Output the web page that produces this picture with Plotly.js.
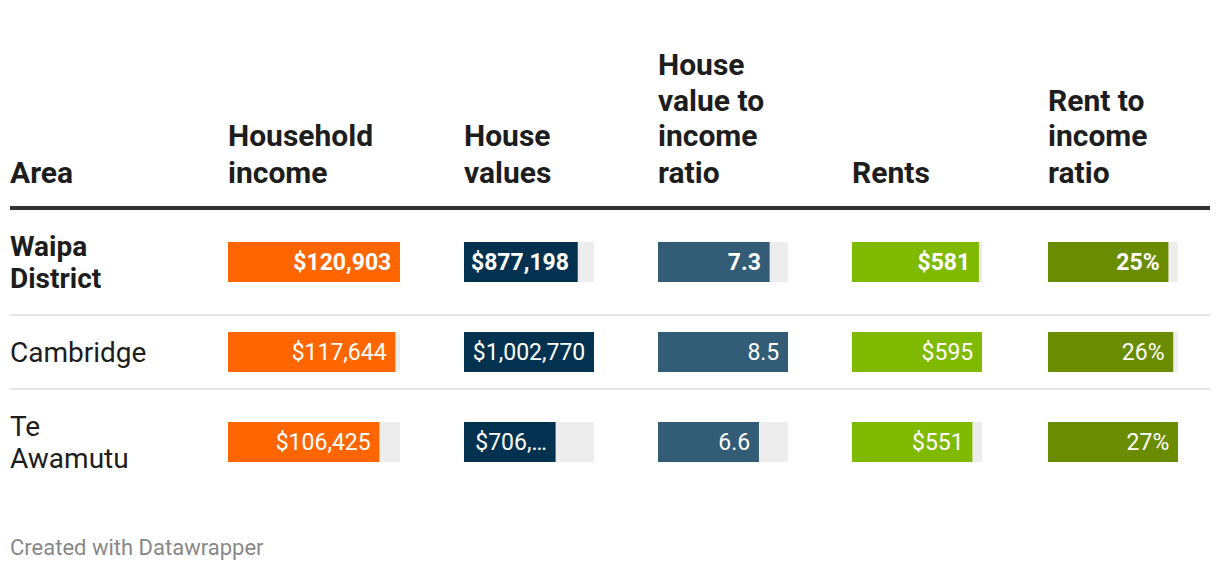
<!DOCTYPE html>
<html>
<head>
<meta charset="utf-8">
<script src="https://cdn.plot.ly/plotly-3.0.1.min.js"></script>
<style>
  html, body { margin: 0; padding: 0; background: #ffffff; }
  #chart { width: 1220px; height: 570px; }
</style>
</head>
<body>
<div id="chart"></div>
<script>
// ---------- data ----------
const areas = ['Waipa District', 'Cambridge', 'Te Awamutu'];
const areaLabels = ['Waipa<br>District', 'Cambridge', 'Te<br>Awamutu'];
const boldAreas = ['Waipa District'];
const householdIncome = [120903, 117644, 106425];
const houseValues = [877198, 1002770, 706500];
const valueIncomeRatio = [7.3, 8.5, 6.6];
const rents = [581, 595, 551];
const rentIncomeRatio = [25, 26, 27];
const areaTitle = 'Area';
const columnTitles = ['Household<br>income', 'House<br>values', 'House<br>value to<br>income<br>ratio', 'Rents', 'Rent to<br>income<br>ratio'];
const footerText = 'Created with Datawrapper';

// ---------- layout helpers ----------
const W = 1220, H = 570;
const px = p => p / W;
const py = p => 1 - p / H;

const money = v => '$' + v.toLocaleString('en-US');
const fixed1 = v => v.toFixed(1);
const pct = v => v + '%';

const columns = [
  { values: householdIncome, fmt: money, color: '#ff6600', x0: 228, x1: 400 },
  { values: houseValues, fmt: money, color: '#023250', x0: 464, x1: 594 },
  { values: valueIncomeRatio, fmt: fixed1, color: '#335c76', x0: 658, x1: 788 },
  { values: rents, fmt: money, color: '#7fba00', x0: 852, x1: 982 },
  { values: rentIncomeRatio, fmt: pct, color: '#6a8c00', x0: 1048, x1: 1178 }
];

const LABEL_SIZE = 23;
function charW(c) {
  if (c === ',') return 0.2;
  if (c === '.') return 0.26;
  if (c === '%') return 0.73;
  if (c === '…') return 0.63;
  return 0.562;
}
function textW(s) { let w = 0; for (const c of s) w += charW(c); return w * LABEL_SIZE; }
function fitLabel(s, avail) {
  if (textW(s) <= avail) return s;
  let t = s;
  while (t.length > 1 && textW(t + '…') > avail) t = t.slice(0, -1);
  return t + '…';
}

const BAR_W = 40 / 90;
const traces = [];
const layout = {
  width: W, height: H,
  margin: { l: 0, r: 0, t: 0, b: 0, pad: 0 },
  paper_bgcolor: '#ffffff', plot_bgcolor: 'rgba(0,0,0,0)',
  showlegend: false, barmode: 'overlay', hovermode: false,
  font: { family: 'Roboto, sans-serif', color: '#1d1d1d' },
  yaxis: {
    type: 'category', categoryarray: areas, categoryorder: 'array',
    range: [2.5, -0.5], domain: [py(487), py(217)],
    visible: false, fixedrange: true
  },
  annotations: [], shapes: []
};

columns.forEach((col, ci) => {
  const axName = ci === 0 ? 'x' : 'x' + (ci + 1);
  const layoutKey = ci === 0 ? 'xaxis' : 'xaxis' + (ci + 1);
  const maxV = Math.max(...col.values);
  const colPx = col.x1 - col.x0;
  layout[layoutKey] = {
    domain: [px(col.x0), px(col.x1)], range: [0, maxV],
    anchor: 'y', visible: false, fixedrange: true
  };
  // grey track
  traces.push({
    type: 'bar', orientation: 'h', y: areas, x: areas.map(() => maxV),
    xaxis: axName, yaxis: 'y', width: BAR_W,
    marker: { color: '#ededed', line: { width: 0 } }, hoverinfo: 'skip'
  });
  // value bars
  const labels = col.values.map((v, i) => {
    const barPx = v / maxV * colPx;
    const t = fitLabel(col.fmt(v), barPx - 16) + '\u00a0';
    return boldAreas.includes(areas[i]) ? '<b>' + t + '</b>' : t;
  });
  traces.push({
    type: 'bar', orientation: 'h', y: areas, x: col.values,
    xaxis: axName, yaxis: 'y', width: BAR_W,
    marker: { color: col.color, line: { width: 0 } },
    text: labels, textposition: 'inside', insidetextanchor: 'end',
    constraintext: 'none', cliponaxis: false,
    textfont: { family: 'Roboto, sans-serif', size: LABEL_SIZE, color: '#ffffff' },
    hoverinfo: 'skip'
  });

  // column header (bottom aligned, 36px line spacing)
  const lines = columnTitles[ci].split('<br>');
  lines.forEach((ln, li) => {
    const centerPx = 172 - (lines.length - 1 - li) * 36;
    layout.annotations.push({
      xref: 'paper', yref: 'paper', x: px(col.x0), y: py(centerPx), xshift: -2,
      xanchor: 'left', yanchor: 'middle', showarrow: false, text: '<b>' + ln + '</b>',
      font: { family: 'Roboto, sans-serif', size: 30, color: '#1d1d1d' }
    });
  });
});

// Area header
layout.annotations.push({
  xref: 'paper', yref: 'paper', x: px(10), y: py(172), xshift: -2,
  xanchor: 'left', yanchor: 'middle', showarrow: false, text: '<b>' + areaTitle + '</b>',
  font: { family: 'Roboto, sans-serif', size: 30, color: '#1d1d1d' }
});

// Area row labels
areaLabels.forEach((lab, i) => {
  const lines = lab.split('<br>');
  const isBold = boldAreas.includes(areas[i]);
  lines.forEach((ln, li) => {
    const shift = ((lines.length - 1) / 2 - li) * 32;
    layout.annotations.push({
      xref: 'paper', yref: 'y', x: px(10), y: i, yshift: shift, xshift: -2,
      xanchor: 'left', yanchor: 'middle', showarrow: false,
      text: isBold ? '<b>' + ln + '</b>' : ln,
      font: { family: 'Roboto, sans-serif', size: 28, color: '#1d1d1d' }
    });
  });
});

// Footer
layout.annotations.push({
  xref: 'paper', yref: 'paper', x: px(10), y: py(547), xshift: -2,
  xanchor: 'left', yanchor: 'middle', showarrow: false, text: footerText,
  font: { family: 'Roboto, sans-serif', size: 22, color: '#888888' }
});

// header rule and row separators
layout.shapes.push({
  type: 'line', xref: 'paper', yref: 'paper', x0: px(10), x1: px(1210), y0: py(208), y1: py(208),
  line: { color: '#333333', width: 4 }
});
[315, 389].forEach(p => layout.shapes.push({
  type: 'line', xref: 'paper', yref: 'paper', x0: px(10), x1: px(1210), y0: py(p), y1: py(p),
  line: { color: '#e6e6e6', width: 2 }
}));

Plotly.newPlot('chart', traces, layout, { displayModeBar: false, staticPlot: true });
</script>
</body>
</html>
